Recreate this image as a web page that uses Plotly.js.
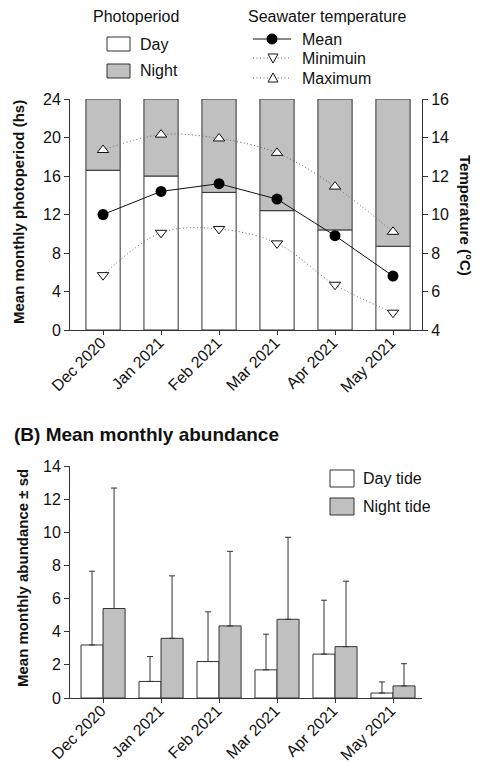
<!DOCTYPE html>
<html>
<head>
<meta charset="utf-8">
<script src="https://cdn.plot.ly/plotly-3.0.1.min.js"></script>
<style>html,body{margin:0;padding:0;background:#fff;}#chart{width:479px;height:764px;}</style>
</head>
<body>
<div id="chart"></div>
<script>
// ---- data ----
const months = ['Dec 2020', 'Jan 2021', 'Feb 2021', 'Mar 2021', 'Apr 2021', 'May 2021'];
const dayHours = [16.6, 16.0, 14.3, 12.4, 10.4, 8.7];
const nightHours = [7.4, 8.0, 9.7, 11.6, 13.6, 15.3];
const tempMean = [10.0, 11.2, 11.6, 10.8, 8.9, 6.8];
const tempMin = [6.85, 9.05, 9.25, 8.5, 6.35, 4.9];
const tempMax = [13.35, 14.15, 13.95, 13.2, 11.45, 9.1];
const dayTideMean = [3.2, 1.0, 2.2, 1.7, 2.65, 0.3];
const dayTideSD = [4.45, 1.5, 3.0, 2.15, 3.25, 0.67];
const nightTideMean = [5.4, 3.6, 4.35, 4.75, 3.1, 0.73];
const nightTideSD = [7.27, 3.77, 4.5, 4.95, 3.95, 1.34];
const zeros = months.map(() => 0);

// ---- helpers (pixel -> paper) ----
const W = 479, H = 764;
const px = x => x / W;
const py = y => 1 - y / H;
const FONT = 'Liberation Sans, Arial, Helvetica, sans-serif';
const INK = '#111';
const EDGE = '#333';
const GRAY = '#c0c0c0';
const DOT = '1px,2.5px';
const DOTCOL = '#666';

const traces = [
  // top: photoperiod bars
  {type: 'bar', x: months, y: dayHours, base: 0, width: 0.59, xaxis: 'x', yaxis: 'y',
   marker: {color: '#fff', line: {color: EDGE, width: 1}}, name: 'Day', showlegend: false},
  {type: 'bar', x: months, y: nightHours, base: dayHours, width: 0.59, xaxis: 'x', yaxis: 'y',
   marker: {color: GRAY, line: {color: EDGE, width: 1}}, name: 'Night', showlegend: false},
  // top: temperature
  {type: 'scatter', mode: 'lines+markers', x: months, y: tempMax, xaxis: 'x', yaxis: 'y2',
   line: {color: DOTCOL, width: 1, dash: DOT, shape: 'spline'},
   marker: {symbol: 'triangle-up', size: 10, color: '#fff', line: {color: '#111', width: 1}},
   name: 'Maximum', showlegend: false},
  {type: 'scatter', mode: 'lines+markers', x: months, y: tempMin, xaxis: 'x', yaxis: 'y2',
   line: {color: DOTCOL, width: 1, dash: DOT, shape: 'spline'},
   marker: {symbol: 'triangle-down', size: 10, color: '#fff', line: {color: '#111', width: 1}},
   name: 'Minimuin', showlegend: false},
  {type: 'scatter', mode: 'lines+markers', x: months, y: tempMean, xaxis: 'x', yaxis: 'y2',
   line: {color: '#111', width: 1},
   marker: {symbol: 'circle', size: 11, color: '#000'},
   name: 'Mean', showlegend: false},
  // bottom: abundance
  {type: 'bar', x: months, y: dayTideMean, width: 0.38, offset: -0.38, xaxis: 'x2', yaxis: 'y3',
   marker: {color: '#fff', line: {color: EDGE, width: 1}},
   error_y: {type: 'data', symmetric: false, array: dayTideSD, arrayminus: zeros, color: EDGE, thickness: 1, width: 3},
   name: 'Day tide', showlegend: false},
  {type: 'bar', x: months, y: nightTideMean, width: 0.38, offset: 0, xaxis: 'x2', yaxis: 'y3',
   marker: {color: GRAY, line: {color: EDGE, width: 1}},
   error_y: {type: 'data', symmetric: false, array: nightTideSD, arrayminus: zeros, color: EDGE, thickness: 1, width: 3},
   name: 'Night tide', showlegend: false}
];

const axisCommon = {
  showgrid: false, zeroline: false, showline: true, linecolor: EDGE, linewidth: 1,
  ticks: 'outside', ticklen: 5, tickcolor: EDGE, tickwidth: 1,
  tickfont: {family: FONT, size: 16, color: INK}, automargin: false, fixedrange: true
};

const xDom = [px(70), px(422)];
const xCommon = {type: 'category', range: [-0.57, 5.5], tickangle: -45, ticklen: 4,
  ticklabelstandoff: -8, ticklabelshift: -2};
const layout = {
  width: W, height: H,
  margin: {l: 0, r: 0, t: 0, b: 0, pad: 0},
  paper_bgcolor: '#fff', plot_bgcolor: 'rgba(0,0,0,0)',
  barmode: 'overlay', showlegend: false,
  font: {family: FONT, color: INK},
  xaxis: Object.assign({}, axisCommon, xCommon, {domain: xDom, anchor: 'y'}),
  yaxis: Object.assign({}, axisCommon, {domain: [py(330), py(99)], anchor: 'x', range: [0, 24], dtick: 4, tick0: 0}),
  yaxis2: Object.assign({}, axisCommon, {overlaying: 'y', side: 'right', anchor: 'x', range: [4, 16], dtick: 2, tick0: 4}),
  xaxis2: Object.assign({}, axisCommon, xCommon, {domain: xDom, anchor: 'y3'}),
  yaxis3: Object.assign({}, axisCommon, {domain: [py(698), py(466)], anchor: 'x2', range: [0, 14], dtick: 2, tick0: 0}),
  shapes: [],
  annotations: []
};

const ann = (text, x, y, opts) => Object.assign({
  text: text, x: px(x), y: py(y), xref: 'paper', yref: 'paper', showarrow: false,
  xanchor: 'left', yanchor: 'middle', font: {family: FONT, size: 16, color: INK}
}, opts || {});

// axis titles
layout.annotations.push(ann('<b>Mean monthly photoperiod (hs)</b>', 18, 212,
  {xanchor: 'center', textangle: -90, font: {family: FONT, size: 15, color: INK}}));
layout.annotations.push(ann('<b>Temperature (°C)</b>', 465, 215,
  {xanchor: 'center', textangle: 90, font: {family: FONT, size: 15, color: INK}}));
layout.annotations.push(ann('<b>Mean monthly abundance ± sd</b>', 22, 578,
  {xanchor: 'center', textangle: -90, font: {family: FONT, size: 15, color: INK}}));
layout.annotations.push(ann('<b>(B) Mean monthly abundance</b>', 12, 434,
  {font: {family: FONT, size: 19, color: INK}}));

// top legends
layout.annotations.push(ann('Photoperiod', 136, 17, {xanchor: 'center'}));
layout.annotations.push(ann('Seawater temperature', 327, 16, {xanchor: 'center'}));
layout.annotations.push(ann('Day', 138, 44));
layout.annotations.push(ann('Night', 138, 71));
layout.annotations.push(ann('Mean', 300, 39));
layout.annotations.push(ann('Minimuin', 300, 58));
layout.annotations.push(ann('Maximum', 300, 78));
// bottom legend
layout.annotations.push(ann('Day tide', 361, 478));
layout.annotations.push(ann('Night tide', 361, 506));

const rect = (x0, y0, x1, y1, fill) => ({type: 'rect', xref: 'paper', yref: 'paper',
  x0: px(x0), x1: px(x1), y0: py(y1), y1: py(y0), fillcolor: fill, line: {color: EDGE, width: 1}});
const hline = (x0, x1, y, dash, color) => ({type: 'line', xref: 'paper', yref: 'paper',
  x0: px(x0), x1: px(x1), y0: py(y), y1: py(y), line: {color: color, width: 1, dash: dash}});
const marker = (x, y, path, fill) => ({type: 'path', xref: 'paper', yref: 'paper',
  xsizemode: 'pixel', ysizemode: 'pixel', xanchor: px(x), yanchor: py(y), path: path,
  fillcolor: fill, line: {color: '#111', width: 1}});
const dot = (x, y, r) => ({type: 'circle', xref: 'paper', yref: 'paper',
  xsizemode: 'pixel', ysizemode: 'pixel', xanchor: px(x), yanchor: py(y),
  x0: -r, x1: r, y0: -r, y1: r, fillcolor: '#000', line: {color: '#000', width: 1}});

layout.shapes.push(rect(107, 37, 130, 51, '#fff'));
layout.shapes.push(rect(107, 64, 130, 78, GRAY));
layout.shapes.push(hline(253, 291, 39, 'solid', '#111'));
layout.shapes.push(hline(253, 291, 58, DOT, DOTCOL));
layout.shapes.push(hline(253, 291, 78, DOT, DOTCOL));
layout.shapes.push(dot(272, 39, 5));
layout.shapes.push(marker(273, 58, 'M-5,4 L5,4 L0,-5 Z', '#fff'));
layout.shapes.push(marker(273, 78, 'M-5,-4 L5,-4 L0,5 Z', '#fff'));
layout.shapes.push(rect(330, 470, 354, 487, '#fff'));
layout.shapes.push(rect(330, 498, 354, 515, GRAY));

Plotly.newPlot('chart', traces, layout, {displayModeBar: false, staticPlot: true});
</script>
</body>
</html>
